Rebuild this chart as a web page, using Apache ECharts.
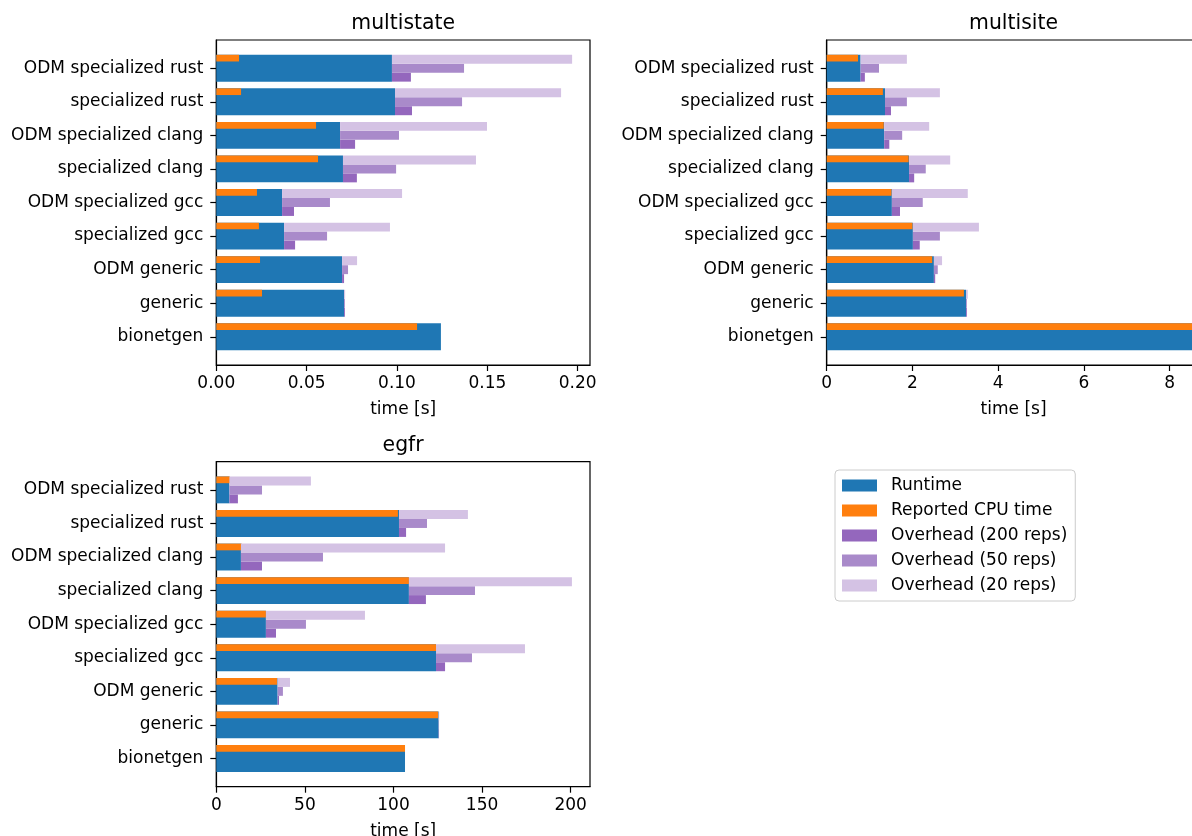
<!DOCTYPE html>
<html><head><meta charset="utf-8">
<script src="https://cdn.jsdelivr.net/npm/echarts@6/dist/echarts.min.js"></script>
<style>html,body{margin:0;padding:0;background:#fff}#c{width:1192px;height:836px}</style>
</head><body><div id="c"></div>
<script>
// categories, bottom -> top
const categories = ['bionetgen', 'generic', 'ODM generic', 'specialized gcc', 'ODM specialized gcc',
  'specialized clang', 'ODM specialized clang', 'specialized rust', 'ODM specialized rust'];
const panelTitles = ['multistate', 'multisite', 'egfr'];
const seriesNames = ['Runtime', 'Reported CPU time', 'Overhead (200 reps)', 'Overhead (50 reps)', 'Overhead (20 reps)'];

// multistate [s]
const msRuntime = [0.1243, 0.0707, 0.0696, 0.0375, 0.0364, 0.0701, 0.0685, 0.0989, 0.0972];
const msCpu     = [0.1111, 0.0253, 0.0242, 0.0236, 0.0225, 0.0563, 0.0552, 0.0137, 0.0126];
const msOh200   = [0, 0.0005, 0.0011, 0.0061, 0.0066, 0.0077, 0.0083, 0.0094, 0.0105];
const msOh50    = [0, 0.0005, 0.0033, 0.0238, 0.0265, 0.0294, 0.0326, 0.0371, 0.0399];
const msOh20    = [0, 0.0006, 0.0083, 0.0586, 0.0664, 0.0736, 0.0813, 0.0919, 0.0997];

// multisite [s]
const mtRuntime = [9.8, 3.25, 2.50, 2.01, 1.52, 1.92, 1.34, 1.36, 0.79];
const mtCpu     = [9.6, 3.20, 2.46, 2.00, 1.51, 1.91, 1.33, 1.31, 0.73];
const mtOh200   = [0, 0.02, 0.03, 0.16, 0.19, 0.12, 0.12, 0.14, 0.10];
const mtOh50    = [0, 0.02, 0.09, 0.63, 0.72, 0.39, 0.42, 0.51, 0.43];
const mtOh20    = [0, 0.04, 0.19, 1.54, 1.77, 0.96, 1.05, 1.28, 1.08];

// egfr [s]
const egRuntime = [106.5, 125.5, 34.6, 124.0, 28.0, 108.7, 13.9, 103.1, 7.4];
const egCpu     = [106.5, 125.2, 34.3, 124.0, 28.0, 108.7, 14.5, 102.5, 7.7];
const egOh200   = [0, 0.2, 0.8, 5.1, 5.7, 9.6, 11.9, 4.0, 4.8];
const egOh50    = [0, 0.2, 3.0, 20.3, 22.6, 37.3, 46.3, 15.8, 18.4];
const egOh20    = [0, 0.3, 7.0, 50.2, 55.9, 92.0, 115.2, 38.9, 46.0];

// x tick labels
const msTicks = [0, 0.05, 0.10, 0.15, 0.20];
const mtTicks = [0, 2, 4, 6, 8];
const egTicks = [0, 50, 100, 150, 200];

const panels = [
  {runtime: msRuntime, cpu: msCpu, oh: [msOh200, msOh50, msOh20], ticks: msTicks, max: 0.2068, fmt: v => v.toFixed(2)},
  {runtime: mtRuntime, cpu: mtCpu, oh: [mtOh200, mtOh50, mtOh20], ticks: mtTicks, max: 8.715, fmt: v => String(v)},
  {runtime: egRuntime, cpu: egCpu, oh: [egOh200, egOh50, egOh20], ticks: egTicks, max: 210.9, fmt: v => String(v)}
];

const FONT = '"DejaVu Sans", sans-serif';
const colors = ['#1f77b4', '#ff7f0e', '#9467bd', '#a98aca', '#d4c2e4'];
// vertical band (relative to category centre) for each series
const bands = [[-0.4, 0.4], [0.2, 0.4], [-0.4, -0.4 + 0.8 / 3], [-0.4 + 0.8 / 3, 0.4 - 0.8 / 3], [0.4 - 0.8 / 3, 0.4]];
const grids = [
  {left: 216.3, top: 40, width: 373.7, height: 325},
  {left: 826.7, top: 40, width: 373.7, height: 325},
  {left: 216.3, top: 461.7, width: 373.7, height: 325}
];

function bandRender(lo, hi) {
  return function (params, api) {
    const i = api.value(0), a = api.value(1), b = api.value(2);
    const p0 = api.coord([a, i + hi]);
    const p1 = api.coord([b, i + lo]);
    return {type: 'rect', shape: {x: p0[0], y: p0[1], width: p1[0] - p0[0], height: p1[1] - p0[1]}, style: api.style()};
  };
}

const xAxes = [], yAxes = [], series = [], graphics = [];
panels.forEach((p, k) => {
  xAxes.push({
    type: 'value', gridIndex: k, min: 0, max: p.max, position: 'bottom',
    name: 'time [s]', nameLocation: 'middle', nameGap: 36,
    nameTextStyle: {fontFamily: FONT, fontSize: 17, color: '#000'},
    axisLine: {show: true, onZero: false, lineStyle: {color: '#000', width: 1.2}},
    axisTick: {show: true, customValues: p.ticks, length: 6, lineStyle: {color: '#000', width: 1.2}},
    axisLabel: {show: true, customValues: p.ticks, formatter: p.fmt, margin: 10, fontFamily: FONT, fontSize: 17, color: '#000'},
    splitLine: {show: false}
  });
  const idx = categories.map((c, i) => i);
  yAxes.push({
    type: 'value', gridIndex: k, min: -0.84, max: 8.84, position: 'left',
    axisLine: {show: true, onZero: false, lineStyle: {color: '#000', width: 1.2}},
    axisTick: {show: true, customValues: idx, length: 6, lineStyle: {color: '#000', width: 1.2}},
    axisLabel: {show: true, customValues: idx, formatter: v => categories[Math.round(v)], margin: 13, fontFamily: FONT, fontSize: 17, color: '#000'},
    splitLine: {show: false}
  });
  const dataSets = [
    categories.map((c, i) => [i, 0, p.runtime[i]]),
    categories.map((c, i) => [i, 0, p.cpu[i]]),
    categories.map((c, i) => [i, p.runtime[i], p.runtime[i] + p.oh[0][i]]),
    categories.map((c, i) => [i, p.runtime[i], p.runtime[i] + p.oh[1][i]]),
    categories.map((c, i) => [i, p.runtime[i], p.runtime[i] + p.oh[2][i]])
  ];
  dataSets.forEach((d, s) => {
    series.push({
      type: 'custom', name: seriesNames[s], xAxisIndex: k, yAxisIndex: k,
      renderItem: bandRender(bands[s][0], bands[s][1]),
      itemStyle: {color: colors[s]},
      encode: {x: [1, 2], y: 0},
      silent: true, animation: false,
      data: d
    });
  });
  graphics.push({
    type: 'text', x: grids[k].left + grids[k].width / 2, y: grids[k].top - 16,
    style: {text: panelTitles[k], font: '20.4px ' + FONT, fill: '#000', align: 'center', verticalAlign: 'middle'}
  });
});

const chart = echarts.init(document.getElementById('c'), null, {renderer: 'canvas'});
chart.setOption({
  animation: false,
  backgroundColor: '#fff',
  grid: grids.map(g => Object.assign({show: true, borderColor: '#000', borderWidth: 1.2, backgroundColor: 'transparent', outerBoundsMode: 'none', containLabel: false}, g)),
  xAxis: xAxes,
  yAxis: yAxes,
  legend: {
    data: seriesNames, orient: 'vertical', left: 835, top: 470,
    icon: 'rect', itemWidth: 35, itemHeight: 12, itemGap: 8,
    padding: [7, 8, 7, 7],
    borderColor: '#cccccc', borderWidth: 1, borderRadius: 4, backgroundColor: 'rgba(255,255,255,0.8)',
    textStyle: {fontFamily: FONT, fontSize: 17, color: '#000', padding: [0, 0, 0, 9]},
    selectedMode: false
  },
  graphic: graphics,
  series: series
});
</script></body></html>
